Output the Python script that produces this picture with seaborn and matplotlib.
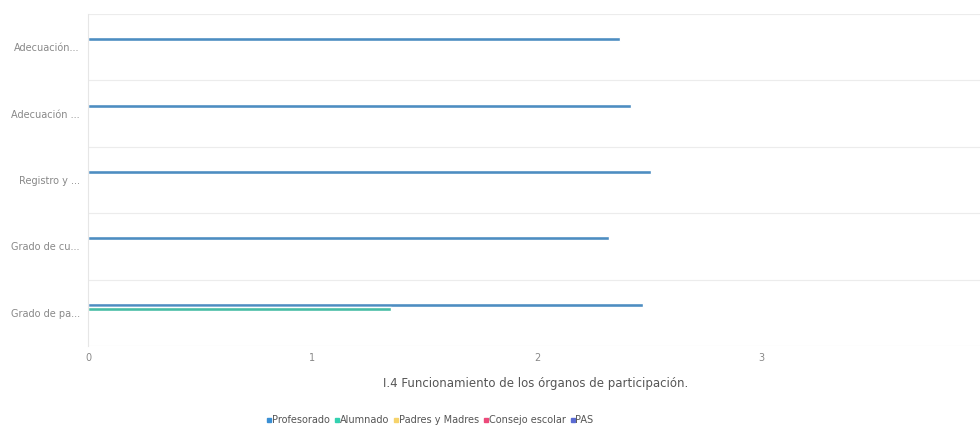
import pandas as pd
import seaborn as sns
import matplotlib.pyplot as plt
from matplotlib.lines import Line2D

# Data
categorias = ['Adecuación...', 'Adecuación ...', 'Registro y ...', 'Grado de cu...', 'Grado de pa...']
series = ['Profesorado', 'Alumnado', 'Padres y Madres', 'Consejo escolar', 'PAS']
profesorado = [2.37, 2.42, 2.51, 2.32, 2.47]
alumnado = [0, 0, 0, 0, 1.35]
padres = [0, 0, 0, 0, 0]
consejo = [0, 0, 0, 0, 0]
pas = [0, 0, 0, 0, 0]
colores = ['#3a8fd4', '#33d1b0', '#f6d36b', '#ec4a7a', '#5b6bd3']
titulo = 'I.4 Funcionamiento de los órganos de participación.'

valores = [profesorado, alumnado, padres, consejo, pas]
rows = []
for s, vals in zip(series, valores):
    for c, v in zip(categorias, vals):
        rows.append({'categoria': c, 'serie': s, 'valor': v})
df = pd.DataFrame(rows)

sns.set_style('white')
plt.rcParams['font.family'] = ['DejaVu Sans']

fig = plt.figure(figsize=(9.8, 4.28), dpi=100)
ax = fig.add_axes([88 / 980, 1 - 346 / 428, 898 / 980, 332 / 428])

sns.barplot(data=df, y='categoria', x='valor', hue='serie', orient='h',
            palette=colores, width=0.3, legend=False, ax=ax,
            order=categorias, hue_order=series)

ax.set_xlim(0, 4)
ax.set_ylim(4.5, -0.5)
ax.set_xticks([0, 1, 2, 3])
ax.set_yticks(range(len(categorias)))
ax.set_yticklabels(categorias)
ax.set_yticks([i - 0.5 for i in range(len(categorias) + 1)], minor=True)
ax.grid(which='minor', axis='y', color='#ececec', linewidth=0.8)
ax.tick_params(axis='both', which='both', length=0, labelsize=7, labelcolor='#888888')
ax.tick_params(axis='y', pad=6)
ax.tick_params(axis='x', pad=5)
ax.set_xlabel('')
ax.set_ylabel('')
for side in ['top', 'right', 'bottom']:
    ax.spines[side].set_visible(False)
ax.spines['left'].set_color('#e6e6e6')
ax.spines['left'].set_linewidth(0.8)

fig.text(536 / 980, 1 - 383 / 428, titulo, ha='center', va='center',
         fontsize=8.5, color='#555555')

handles = [Line2D([], [], marker='s', linestyle='', markersize=3.5,
                  markerfacecolor=col, markeredgecolor=col) for col in colores]
fig.legend(handles, series, loc='center', bbox_to_anchor=(430 / 980, 1 - 420 / 428),
           ncol=5, frameon=False, fontsize=7, handletextpad=0.0,
           columnspacing=0.4, handlelength=0.6, labelcolor='#555555')

fig.savefig('out.png', dpi=100)
